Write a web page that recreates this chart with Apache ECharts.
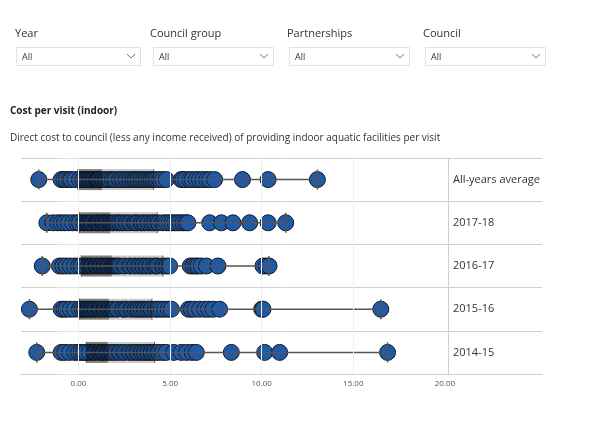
<!DOCTYPE html>
<html><head><meta charset="utf-8">
<script src="https://cdn.jsdelivr.net/npm/echarts@6/dist/echarts.min.js"></script>
<style>html,body{margin:0;padding:0;background:#fff;}#c{width:596px;height:429px;}</style>
</head><body><div id="c"></div>
<script>
// ---- data ----
var categories = ["All-years average", "2017-18", "2016-17", "2015-16", "2014-15"];
var allYears = [-2.17,-0.95,-0.8,-0.67,-0.5,-0.4,-0.2,0.05,0.24,0.4,0.6,0.8,1.0,1.1,1.3,1.5,1.69,1.85,2.0,2.24,2.4,2.6,2.8,2.97,3.1,3.24,3.4,3.55,3.7,3.85,3.97,4.1,4.25,4.43,4.6,4.79,5.6,5.7,5.85,6.07,6.2,6.43,6.6,6.79,7.0,7.16,7.43,8.95,10.35,13.04];
var y2017 = [-1.73,-1.4,-1.13,-0.95,-0.77,-0.55,-0.31,-0.1,0.05,0.3,0.51,0.7,0.97,1.1,1.33,1.5,1.73,1.9,2.1,2.24,2.4,2.61,2.8,3.06,3.2,3.43,3.6,3.8,4.0,4.15,4.35,4.6,4.79,4.95,5.1,5.25,5.4,5.55,5.7,5.85,5.97,7.16,7.8,8.43,9.34,10.35,11.31];
var y2016 = [-1.98,-1.04,-0.85,-0.67,-0.45,-0.22,0.0,0.15,0.35,0.51,0.7,0.97,1.2,1.4,1.6,1.82,1.97,2.1,2.24,2.5,2.8,3.06,3.3,3.5,3.7,3.9,4.15,4.3,4.61,4.8,4.97,6.1,6.25,6.4,6.52,6.7,6.98,7.61,10.07,10.25,10.4];
var y2015 = [-2.68,-0.95,-0.8,-0.67,-0.45,-0.22,0.05,0.2,0.33,0.5,0.7,0.9,1.15,1.4,1.66,1.87,2.1,2.42,2.6,2.88,3.1,3.25,3.43,3.6,3.8,3.97,4.2,4.35,4.52,4.7,4.9,5.07,6.0,6.16,6.35,6.61,6.89,7.1,7.34,7.7,10.0,10.07,16.5];
var y2014 = [-2.28,-0.95,-0.75,-0.49,-0.2,0.0,0.15,0.3,0.42,0.6,0.85,1.15,1.35,1.6,1.8,2.0,2.24,2.5,2.79,3.0,3.2,3.43,3.6,3.8,3.97,4.15,4.35,4.6,4.79,5.2,5.61,5.9,6.2,6.43,8.34,10.16,10.98,16.87];
// box stats: [min, Q1, median, Q3, max]
var boxAll = [-2.17,-0.04,1.29,4.10,13.04];
var box2017 = [-1.73,0.05,1.73,4.30,11.31];
var box2016 = [-1.98,0.15,1.82,4.61,10.40];
var box2015 = [-2.68,0.05,1.66,4.01,16.50];
var box2014 = [-2.28,0.42,1.60,4.15,16.87];
var xTicks = [0, 5, 10, 15, 20];
var gridValues = [0, 5, 10, 15];

var rows = [allYears, y2017, y2016, y2015, y2014];
var boxes = [boxAll, box2017, box2016, box2015, box2014];
var points = [];
rows.forEach(function (r, i) { r.forEach(function (v) { points.push([v, i]); }); });
var boxData = boxes.map(function (b, i) { return [i].concat(b); });

var FONT = '"Segoe UI","Open Sans","Noto Sans",sans-serif';
var chart = echarts.init(document.getElementById('c'), null, {renderer: 'canvas'});

function filter(label, lx, rx, rw) {
  return [
    {type: 'text', left: lx, top: 28, style: {text: label, font: '11px ' + FONT, fill: '#333'}},
    {type: 'rect', shape: {x: rx + 0.5, y: 47.5, width: rw, height: 18}, style: {fill: '#fff', stroke: '#e3e3e3', lineWidth: 1}},
    {type: 'text', left: rx + 6, top: 53, style: {text: 'All', font: '9px ' + FONT, fill: '#333'}},
    {type: 'polyline', shape: {points: [[rx + rw - 13, 54], [rx + rw - 9, 58], [rx + rw - 5, 54]]}, style: {stroke: '#777', lineWidth: 1, fill: null}}
  ];
}

var graphics = [].concat(
  filter('Year', 15, 16, 124),
  filter('Council group', 150, 153, 120),
  filter('Partnerships', 287, 289, 120),
  filter('Council', 423, 425, 120),
  [
    {type: 'text', left: 10, top: 106, style: {text: 'Cost per visit (indoor)', font: 'bold 10px ' + FONT, fill: '#222'}},
    {type: 'text', left: 10, top: 133, style: {text: 'Direct cost to council (less any income received) of providing indoor aquatic facilities per visit', font: '10px ' + FONT, fill: '#333'}}
  ]
);

var option = {
  animation: false,
  graphic: graphics,
  grid: {left: 21, right: 54, top: 158, bottom: 55, containLabel: false},
  xAxis: {
    type: 'value', min: -3.14, max: 25.3,
    axisLine: {show: true, lineStyle: {color: '#cfcfcf', width: 1}},
    axisTick: {show: false},
    splitLine: {show: false},
    axisLabel: {customValues: xTicks, formatter: function (v) { return v.toFixed(2); }, fontSize: 8, color: '#555', fontFamily: FONT, margin: 6}
  },
  yAxis: {
    type: 'category', data: categories, inverse: true,
    axisLine: {show: true, lineStyle: {color: '#d0d0d0'}},
    axisTick: {show: true, length: 21, lineStyle: {color: '#e0e0e0'}},
    splitLine: {show: true, lineStyle: {color: '#d0d0d0', width: 1}},
    axisLabel: {align: 'left', margin: -432, fontSize: 11, color: '#333', fontFamily: FONT}
  },
  series: [
    {
      type: 'scatter', data: points, symbolSize: 16, z: 2,
      itemStyle: {color: '#1f5aa8', borderColor: '#1a1a1a', borderWidth: 1, opacity: 1},
      markLine: {
        silent: true, symbol: 'none', label: {show: false},
        lineStyle: {color: '#efefef', type: 'solid', width: 1},
        data: gridValues.map(function (v) { return {xAxis: v}; }).concat([{xAxis: 20.2, lineStyle: {color: '#cfcfcf', width: 1}}])
      }
    },
    {
      type: 'custom', z: 3, data: boxData,
      encode: {x: [1, 2, 3, 4, 5], y: 0},
      renderItem: function (params, api) {
        var cat = api.value(0);
        var pMin = api.coord([api.value(1), cat]);
        var pQ1 = api.coord([api.value(2), cat]);
        var pMed = api.coord([api.value(3), cat]);
        var pQ3 = api.coord([api.value(4), cat]);
        var pMax = api.coord([api.value(5), cat]);
        var y = pMin[1];
        var h = 21, t = 20;
        return {type: 'group', children: [
          {type: 'rect', shape: {x: pQ1[0], y: y - h / 2, width: pMed[0] - pQ1[0], height: h}, style: {fill: 'rgba(0,0,0,0.5)'}},
          {type: 'rect', shape: {x: pMed[0], y: y - h / 2, width: pQ3[0] - pMed[0], height: h}, style: {fill: 'rgba(0,0,0,0.2)'}},
          {type: 'line', shape: {x1: pQ1[0], y1: y - h / 2, x2: pQ1[0], y2: y + h / 2}, style: {stroke: 'rgba(40,40,40,0.7)', lineWidth: 1}},
          {type: 'line', shape: {x1: pQ3[0], y1: y - h / 2, x2: pQ3[0], y2: y + h / 2}, style: {stroke: 'rgba(40,40,40,0.7)', lineWidth: 1}},
          {type: 'line', shape: {x1: pMin[0], y1: y, x2: pMax[0], y2: y}, style: {stroke: '#555', lineWidth: 1.5}},
          {type: 'line', shape: {x1: pMin[0], y1: y - t / 2, x2: pMin[0], y2: y + t / 2}, style: {stroke: '#555', lineWidth: 1.5}},
          {type: 'line', shape: {x1: pMax[0], y1: y - t / 2, x2: pMax[0], y2: y + t / 2}, style: {stroke: '#555', lineWidth: 1.5}}
        ]};
      }
    }
  ]
};
chart.setOption(option);
</script>
</body></html>
